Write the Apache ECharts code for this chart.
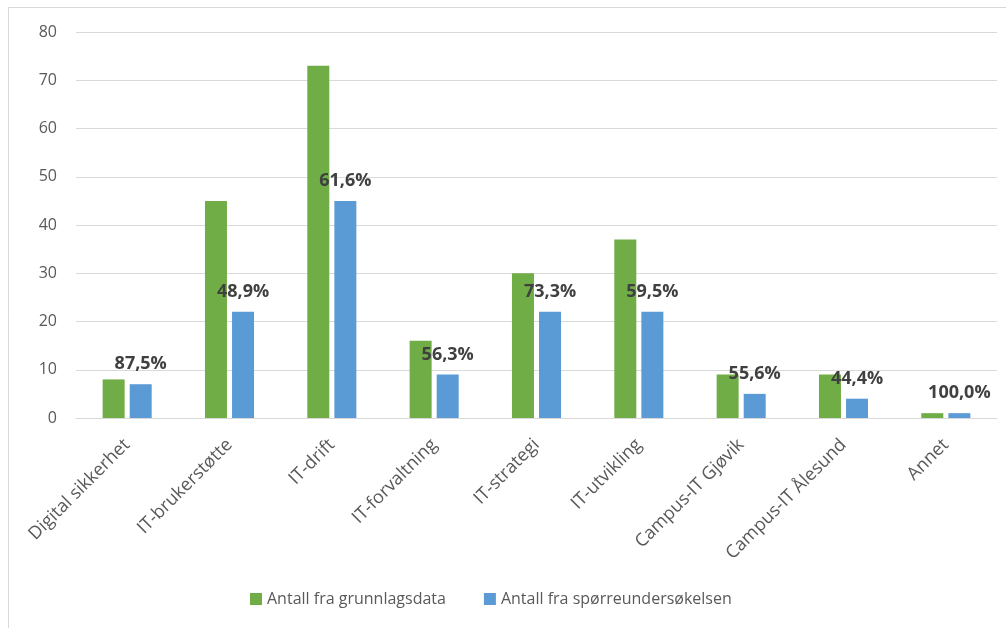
<!DOCTYPE html>
<html>
<head>
<meta charset="utf-8">
<script src="https://cdn.jsdelivr.net/npm/echarts@6/dist/echarts.min.js"></script>
<style>
  html, body { margin: 0; padding: 0; background: #fff; }
  #chart { width: 1006px; height: 628px; }
</style>
</head>
<body>
<div id="chart"></div>
<script>
// Categories and counts per unit
const categories = [
  'Digital sikkerhet', 'IT-brukerstøtte', 'IT-drift', 'IT-forvaltning',
  'IT-strategi', 'IT-utvikling', 'Campus-IT Gjøvik', 'Campus-IT Ålesund', 'Annet'
];
const grunnlagsdata = [8, 45, 73, 16, 30, 37, 9, 9, 1];
const sporreundersokelsen = [7, 22, 45, 9, 22, 22, 5, 4, 1];
const seriesNames = ['Antall fra grunnlagsdata', 'Antall fra spørreundersøkelsen'];

// Response rate shown above each category: survey count / base count
function rateLabel(i) {
  const pct = sporreundersokelsen[i] / grunnlagsdata[i] * 100;
  return pct.toFixed(1).replace('.', ',') + '%';
}

const FONT = '"Open Sans", "Noto Sans", sans-serif';
const chart = echarts.init(document.getElementById('chart'));

chart.setOption({
  animation: false,
  textStyle: { fontFamily: FONT },
  graphic: [{
    type: 'rect',
    shape: { x: 8.5, y: 7.5, width: 1100, height: 800 },
    style: { fill: 'none', stroke: '#d9d9d9', lineWidth: 1 },
    silent: true,
    z: -1
  }],
  grid: { left: 76, right: 9, top: 32, bottom: 210, containLabel: false },
  legend: {
    bottom: 16,
    left: 245,
    itemWidth: 12,
    itemHeight: 12,
    itemGap: 38,
    icon: 'rect',
    textStyle: { color: '#595959', fontSize: 16, fontFamily: FONT }
  },
  xAxis: {
    type: 'category',
    data: categories,
    axisTick: { show: false },
    axisLine: { lineStyle: { color: '#d9d9d9', width: 1 } },
    axisLabel: {
      rotate: 45,
      interval: 0,
      margin: 24,
      color: '#595959',
      fontSize: 18,
      fontFamily: FONT
    }
  },
  yAxis: {
    type: 'value',
    min: 0,
    max: 80,
    interval: 10,
    axisLine: { show: false },
    axisTick: { show: false },
    splitLine: { lineStyle: { color: '#d9d9d9', width: 1 } },
    axisLabel: { color: '#595959', fontSize: 16, margin: 19, fontFamily: FONT }
  },
  series: [
    {
      name: seriesNames[0],
      type: 'bar',
      data: grunnlagsdata,
      barWidth: 22,
      barGap: '23%',
      itemStyle: { color: '#70AD47' }
    },
    {
      name: seriesNames[1],
      type: 'bar',
      data: sporreundersokelsen,
      barWidth: 22,
      itemStyle: { color: '#5B9BD5' },
      label: {
        show: true,
        position: 'top',
        distance: 11,
        color: '#404040',
        fontWeight: 'bold',
        fontSize: 18,
        fontFamily: FONT,
        formatter: p => rateLabel(p.dataIndex)
      }
    }
  ]
});
</script>
</body>
</html>
